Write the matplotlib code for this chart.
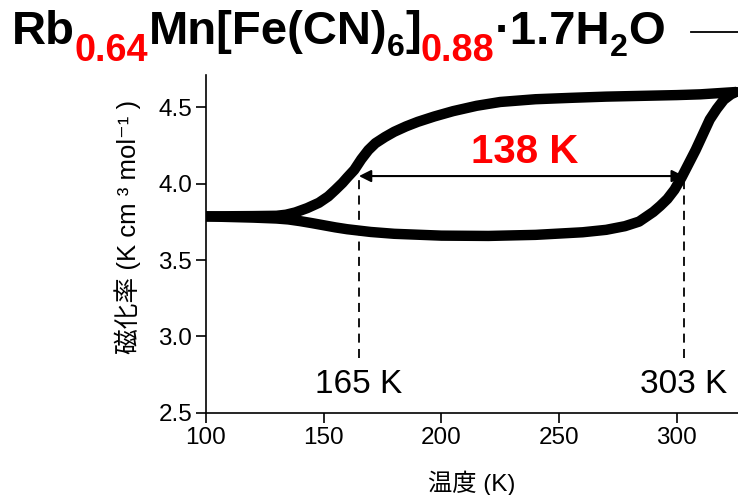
import matplotlib
matplotlib.use("Agg")
import matplotlib.pyplot as plt

plt.rcParams['font.family'] = ['Liberation Sans', 'Noto Sans CJK JP', 'DejaVu Sans']

# heating branch (lower curve)
T_heat = [100, 110, 120, 130, 135, 140, 145, 150, 155, 160, 170, 180, 200, 220,
          240, 260, 270, 278, 284, 290, 293, 296, 299, 302, 305, 308, 311, 314,
          317, 320, 323, 325]
chi_heat = [3.786, 3.782, 3.778, 3.772, 3.766, 3.755, 3.742, 3.728, 3.714, 3.702,
            3.684, 3.672, 3.660, 3.658, 3.665, 3.682, 3.698, 3.722, 3.752, 3.815,
            3.855, 3.90, 3.96, 4.04, 4.13, 4.22, 4.32, 4.42, 4.49, 4.55, 4.585,
            4.60]

# cooling branch (upper curve)
T_cool = [325, 310, 300, 285, 270, 255, 240, 225, 215, 205, 197, 190, 185, 180,
          176, 172, 169, 166, 163, 160, 158, 155, 152, 148, 143, 138, 134, 130,
          120, 110, 100]
chi_cool = [4.60, 4.585, 4.58, 4.575, 4.57, 4.562, 4.553, 4.535, 4.51, 4.475, 4.44,
            4.405, 4.375, 4.34, 4.305, 4.265, 4.22, 4.16, 4.09, 4.04, 4.005,
            3.96, 3.917, 3.875, 3.84, 3.812, 3.797, 3.79, 3.788, 3.787, 3.786]

T_up = 303
T_down = 165
width_label = f"{T_up - T_down} K"

fig = plt.figure(figsize=(7.38, 4.95), dpi=100)
ax = fig.add_axes([0.279, 0.166, 0.721, 0.682])

ax.plot(T_heat, chi_heat, color='black', lw=7.5, solid_capstyle='round',
        solid_joinstyle='round', zorder=3)
ax.plot(T_cool, chi_cool, color='black', lw=7.5, solid_capstyle='round',
        solid_joinstyle='round', zorder=3)

# transition temperatures
for t in (T_down, T_up):
    ax.plot([t, t], [2.86, 4.05], color='black', lw=1.3, ls=(0, (5, 3.5)), zorder=2)
    ax.text(t, 2.685, f"{t} K", ha='center', va='center', fontsize=24)

ax.annotate('', xy=(T_down, 4.05), xytext=(T_up, 4.05),
            arrowprops=dict(arrowstyle='<|-|>', color='black', lw=1.5,
                            mutation_scale=18, shrinkA=0, shrinkB=0), zorder=4)
ax.text((T_down + T_up) / 2 + 1.5, 4.21, width_label, color='#ff0000',
        fontsize=29, fontweight='bold', ha='center', va='center')

ax.set_xlim(100, 326)
ax.set_ylim(2.5, 4.71)
ax.set_xticks([100, 150, 200, 250, 300])
ax.set_yticks([2.5, 3.0, 3.5, 4.0, 4.5])
ax.set_yticklabels(['2.5', '3.0', '3.5', '4.0', '4.5'])
ax.tick_params(direction='out', length=7, width=1.2, labelsize=17.5, pad=3)
for s in ('top', 'right'):
    ax.spines[s].set_visible(False)
for s in ('left', 'bottom'):
    ax.spines[s].set_linewidth(1.2)

ax.set_xlabel('温度 (K)', fontsize=17.5)
ax.set_ylabel('磁化率 (K cm ³ mol⁻¹ )', fontsize=18.5)
ax.xaxis.set_label_coords(0.5, -0.17)
ax.yaxis.set_label_coords(-0.122, 0.55)

# formula title, laid out piece by piece
r = fig.canvas.get_renderer()
pieces = [
    ('Rb', 'black', False),
    ('0.64', '#ff0000', True),
    ('Mn[Fe(CN)', 'black', False),
    ('6', 'black', 'small'),
    (']', 'black', False),
    ('0.88', '#ff0000', True),
    ('·1.7H', 'black', False),
    ('2', 'black', 'small'),
    ('O', 'black', False),
]
base_size = 34
x = 12
base_y = 495 - 44
for s, c, sub in pieces:
    if sub is True:
        size, dy = base_size * 0.8, -17
    elif sub == 'small':
        size, dy = base_size * 0.68, -12
    else:
        size, dy = base_size, 0
    t = fig.text(x / 738, (base_y + dy) / 495, s, color=c, fontsize=size,
                 fontweight='bold', ha='left', va='baseline')
    x += t.get_window_extent(renderer=r).width
fig.add_artist(plt.Line2D([691 / 738, 1.0], [1 - 32 / 495, 1 - 32 / 495],
                          color='black', lw=1.3))

fig.savefig('out.png', dpi=100)
